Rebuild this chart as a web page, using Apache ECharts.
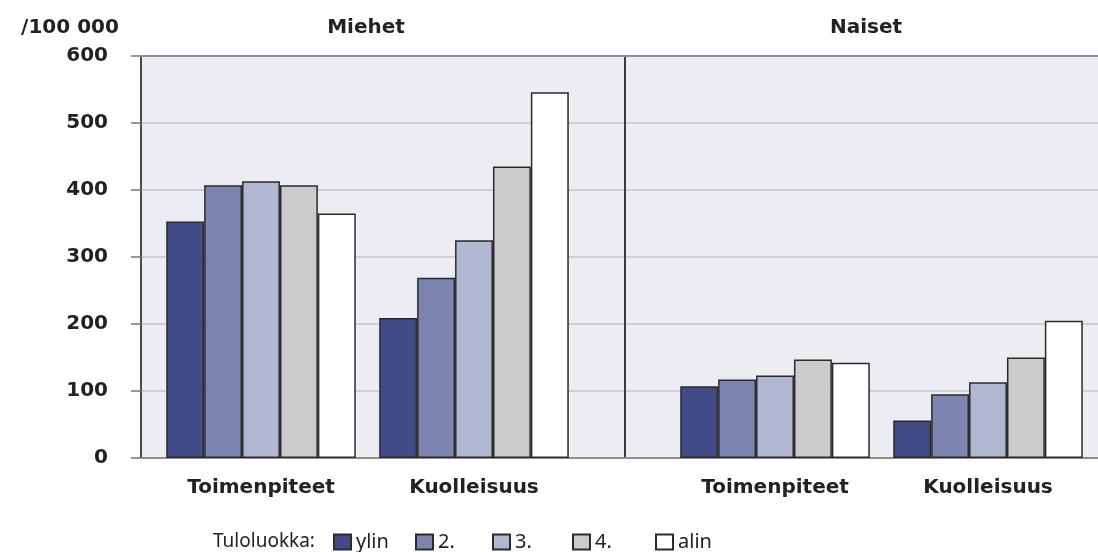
<!DOCTYPE html>
<html>
<head>
<meta charset="utf-8">
<script src="https://cdn.jsdelivr.net/npm/echarts@6/dist/echarts.min.js"></script>
<style>
  html, body { margin: 0; padding: 0; background: #fff; }
  #chart { width: 1098px; height: 552px; }
</style>
</head>
<body>
<div id="chart"></div>
<script>
const categories = ['Toimenpiteet', 'Kuolleisuus']
const panels = ['Miehet', 'Naiset']
const incomeClasses = ['ylin', '2.', '3.', '4.', 'alin']
const classColors = ['#424b88', '#7c84af', '#b2b7d1', '#cbcbcb', '#ffffff']
const yTicks = [0, 100, 200, 300, 400, 500, 600]

// arvot tuloluokittain: ylin, 2., 3., 4., alin
const menToimenpiteet = [353, 407, 413, 407, 365]
const menKuolleisuus = [209, 269, 325, 435, 546]
const womenToimenpiteet = [107, 117, 123, 147, 142]
const womenKuolleisuus = [56, 95, 113, 150, 205]

const font = 'DejaVu Sans'
const legendFont = 'Noto Sans'
const textColor = '#222'
const gridTop = 56
const gridBottom = 94
const legendLefts = [328, 410, 487, 567, 650]

const chart = echarts.init(document.getElementById('chart'))

const series = []
incomeClasses.forEach(function (name, i) {
  const style = {
    color: classColors[i],
    borderColor: '#2b2b2b',
    borderWidth: 1.5
  }
  series.push({
    name: name,
    type: 'bar',
    xAxisIndex: 2,
    yAxisIndex: 1,
    barGap: '0%',
    barCategoryGap: '11%',
    itemStyle: style,
    data: [menToimenpiteet[i], menKuolleisuus[i]]
  })
  series.push({
    name: name,
    type: 'bar',
    xAxisIndex: 3,
    yAxisIndex: 2,
    barGap: '0%',
    barCategoryGap: '11%',
    itemStyle: style,
    data: [womenToimenpiteet[i], womenKuolleisuus[i]]
  })
})

const barXAxis = function (gridIndex) {
  return {
    type: 'category',
    gridIndex: gridIndex,
    data: categories,
    axisLine: { show: false },
    axisTick: { show: false },
    axisLabel: { interval: 0, margin: 20, fontSize: 20, fontWeight: 'bold', fontFamily: font, color: textColor }
  }
}
const hiddenY = function (gridIndex) {
  return { type: 'value', gridIndex: gridIndex, min: 0, max: 600, interval: 100, show: false }
}

const textStyle = function (text, align, family, weight, size) {
  return {
    text: text,
    align: align,
    textAlign: align,
    verticalAlign: 'middle',
    textVerticalAlign: 'middle',
    font: weight + ' ' + size + 'px "' + family + '"',
    fill: textColor
  }
}

// yksi selite jokaiselle tuloluokalle, jotta välit ovat tasaiset
const legends = incomeClasses.map(function (name, i) {
  return {
    data: [name],
    left: legendLefts[i],
    top: 527,
    itemWidth: 17,
    itemHeight: 15,
    icon: 'rect',
    textStyle: { fontSize: 20, fontFamily: legendFont, color: textColor }
  }
})

const options = {
  animation: false,
  backgroundColor: '#fff',
  grid: [
    // tausta, ruudukko ja jakoviiva
    { left: 141, width: 967, top: gridTop, bottom: gridBottom, outerBoundsMode: 'none', show: true, backgroundColor: '#ecedf2', borderWidth: 0 },
    { left: 154.5, width: 426, top: gridTop, bottom: gridBottom, outerBoundsMode: 'none' },
    { left: 668.5, width: 426, top: gridTop, bottom: gridBottom, outerBoundsMode: 'none' }
  ],
  xAxis: [
    {
      type: 'category',
      gridIndex: 0,
      data: panels,
      position: 'bottom',
      axisLine: { lineStyle: { color: '#8d8d92', width: 2 } },
      axisTick: { show: false },
      axisLabel: { show: false },
      splitLine: { show: true, lineStyle: { color: '#3a3a3a', width: 2 } }
    },
    {
      type: 'category',
      gridIndex: 0,
      data: panels,
      position: 'top',
      axisLine: { lineStyle: { color: '#909096', width: 2 } },
      axisTick: { show: false },
      axisLabel: { show: false }
    },
    barXAxis(1),
    barXAxis(2)
  ],
  yAxis: [
    {
      type: 'value',
      gridIndex: 0,
      min: 0,
      max: 600,
      interval: 100,
      axisLine: { show: true, lineStyle: { color: '#4a4a4a', width: 2 } },
      axisTick: { show: true, length: 10, lineStyle: { color: '#777', width: 1.5 } },
      axisLabel: {
        margin: 33,
        fontSize: 20,
        fontWeight: 'bold',
        fontFamily: font,
        color: textColor,
        formatter: function (v) { return yTicks.indexOf(v) >= 0 ? String(v) : '' }
      },
      splitLine: { show: true, lineStyle: { color: '#c6c6ce', width: 1.5 } }
    },
    hiddenY(1),
    hiddenY(2)
  ],
  legend: legends,
  graphic: [
    { type: 'text', x: 70, y: 28, style: textStyle('/100 000', 'center', font, 'bold', 20) },
    { type: 'text', x: 366, y: 28, style: textStyle(panels[0], 'center', font, 'bold', 20) },
    { type: 'text', x: 866, y: 28, style: textStyle(panels[1], 'center', font, 'bold', 20) },
    { type: 'text', x: 213, y: 542, style: textStyle('Tuloluokka:', 'left', legendFont, 'normal', 19) }
  ],
  series: series
}
chart.setOption(options)
</script>
</body>
</html>
